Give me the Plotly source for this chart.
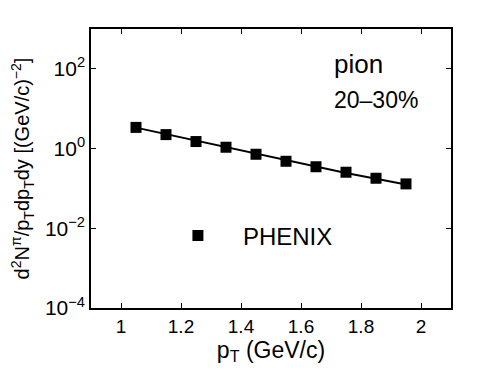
import plotly.graph_objects as go

# PHENIX pion spectrum, 20-30% centrality
pt = [1.05, 1.15, 1.25, 1.35, 1.45, 1.55, 1.65, 1.75, 1.85, 1.95]
phenix = [3.4, 2.24, 1.5, 1.08, 0.72, 0.48, 0.35, 0.255, 0.18, 0.13]
model = [3.35, 2.3, 1.58, 1.08, 0.74, 0.5, 0.35, 0.245, 0.175, 0.125]

ytick_vals = [1e-4, 1e-2, 1e0, 1e2]
ytick_text = ["10<sup>−4</sup>", "10<sup>−2</sup>", "10<sup>0</sup>", "10<sup>2</sup>"]
xtick_vals = [1, 1.2, 1.4, 1.6, 1.8, 2]
xtick_text = ["1", "1.2", "1.4", "1.6", "1.8", "2"]

FONT = "Liberation Sans, Arial, sans-serif"

fig = go.Figure()
fig.add_trace(go.Scatter(
    x=pt, y=model, mode="lines",
    line=dict(color="black", width=2),
    showlegend=False
))
fig.add_trace(go.Scatter(
    x=pt, y=phenix, mode="markers",
    marker=dict(symbol="square", size=11, color="black"),
    name="PHENIX"
))

fig.add_annotation(x=0.669, y=0.875, xref="paper", yref="paper", text="pion",
                   showarrow=False, xanchor="left", yanchor="middle",
                   font=dict(size=26, color="black"))
fig.add_annotation(x=0.669, y=0.745, xref="paper", yref="paper", text="20–30%",
                   showarrow=False, xanchor="left", yanchor="middle",
                   font=dict(size=23, color="black"))

# page body adds an 8px margin, so the figure is a bit smaller than the window
fig.update_layout(
    width=490, height=367,
    margin=dict(l=83, r=47, t=21, b=67),
    paper_bgcolor="white", plot_bgcolor="white",
    font=dict(family=FONT, size=19, color="black"),
    legend=dict(x=0.172, y=0.258, xanchor="left", yanchor="middle",
                bgcolor="rgba(0,0,0,0)", font=dict(size=24),
                itemwidth=80),
    xaxis=dict(
        range=[0.9, 2.1], tickvals=xtick_vals, ticktext=xtick_text,
        ticks="inside", ticklen=5, tickcolor="black", showgrid=False, zeroline=False,
        showline=True, linecolor="black", linewidth=1.5, mirror="ticks",
        title=dict(text="p<sub>T</sub> (GeV/c)", font=dict(size=23), standoff=2),
    ),
    yaxis=dict(
        type="log", range=[-4, 3], tickvals=ytick_vals, ticktext=ytick_text,
        tickfont=dict(size=21),
        ticks="inside", ticklen=5, tickcolor="black", showgrid=False, zeroline=False,
        showline=True, linecolor="black", linewidth=1.5, mirror="ticks",
        title=dict(text="d<sup>2</sup>N<sup>π</sup>/p<sub>T</sub>dp<sub>T</sub>dy [(GeV/c)<sup>−2</sup>]",
                   font=dict(size=20), standoff=10),
    ),
)

fig.write_html("out.html")
